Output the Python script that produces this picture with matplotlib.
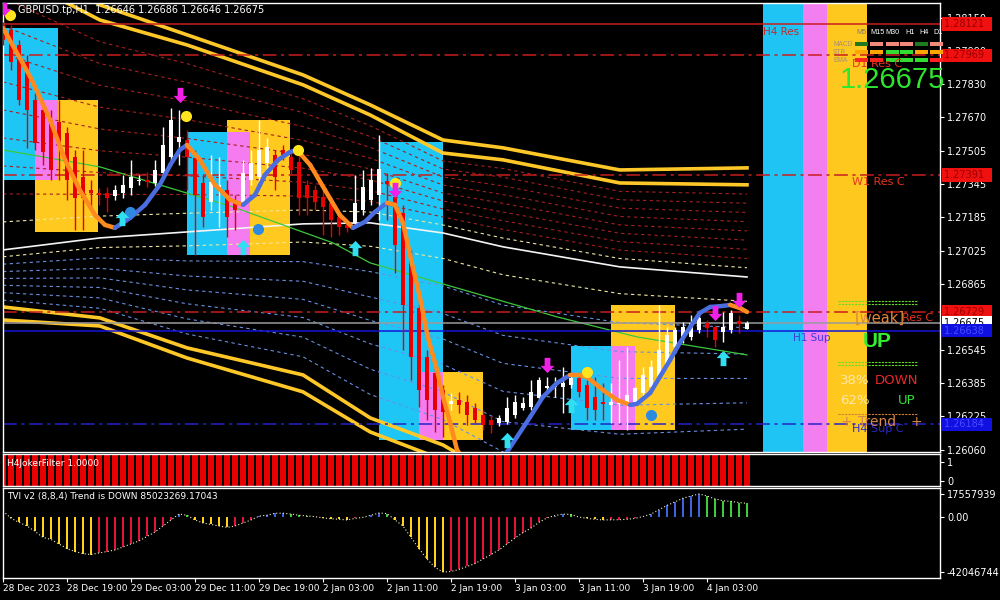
import numpy as np
import matplotlib
matplotlib.use("Agg")
import matplotlib.pyplot as plt
from matplotlib.path import Path
from matplotlib.patches import Rectangle
from matplotlib.lines import Line2D
import matplotlib.transforms as mtransforms

# ---------------- data ----------------
opens = [1.28117, 1.28093, 1.28020, 1.27938, 1.27754, 1.27706, 1.27657, 1.27648, 1.27594, 1.27478,
         1.27381, 1.27318, 1.27304, 1.27304, 1.27289, 1.27304, 1.27328, 1.27362, 1.27367, 1.27352,
         1.27401, 1.27478, 1.27551, 1.27560, 1.27473, 1.27352, 1.27260, 1.27318, 1.27318, 1.27256,
         1.27256, 1.27367, 1.27381, 1.27449, 1.27488, 1.27512, 1.27478, 1.27454, 1.27343, 1.27318,
         1.27285, 1.27256, 1.27188, 1.27149, 1.27159, 1.27222, 1.27270, 1.27294, 1.27362, 1.27285,
         1.27207, 1.26980, 1.26747, 1.26510, 1.26433, 1.26350, 1.26283, 1.26302, 1.26292, 1.26263,
         1.26229, 1.26205, 1.26191, 1.26196, 1.26229, 1.26263, 1.26268, 1.26312, 1.26360, 1.26365,
         1.26365, 1.26375, 1.26409, 1.26375, 1.26317, 1.26292, 1.26278, 1.26283, 1.26292, 1.26292,
         1.26336, 1.26365, 1.26413, 1.26471, 1.26559, 1.26607, 1.26607, 1.26641, 1.26675, 1.26655,
         1.26631, 1.26641, 1.26684, 1.26646]
highs = [1.28132, 1.28117, 1.28044, 1.27972, 1.27788, 1.27730, 1.27706, 1.27754, 1.27623, 1.27512,
         1.27512, 1.27367, 1.27328, 1.27333, 1.27343, 1.27391, 1.27464, 1.27391, 1.27406, 1.27464,
         1.27623, 1.27715, 1.27706, 1.27609, 1.27512, 1.27391, 1.27488, 1.27478, 1.27367, 1.27294,
         1.27464, 1.27512, 1.27657, 1.27570, 1.27512, 1.27536, 1.27512, 1.27512, 1.27367, 1.27343,
         1.27318, 1.27280, 1.27212, 1.27173, 1.27391, 1.27415, 1.27425, 1.27585, 1.27401, 1.27343,
         1.27246, 1.27028, 1.26786, 1.26544, 1.26471, 1.26375, 1.26336, 1.26341, 1.26326, 1.26288,
         1.26254, 1.26229, 1.26229, 1.26317, 1.26326, 1.26317, 1.26399, 1.26413, 1.26413, 1.26413,
         1.26462, 1.26423, 1.26433, 1.26399, 1.26413, 1.26384, 1.26384, 1.26496, 1.26559, 1.26365,
         1.26462, 1.26496, 1.26762, 1.26655, 1.26655, 1.26680, 1.26713, 1.26728, 1.26689, 1.26665,
         1.26728, 1.26738, 1.26713, 1.26686]
lows = [1.28020, 1.27899, 1.27730, 1.27522, 1.27512, 1.27439, 1.27367, 1.27367, 1.27270, 1.27125,
        1.27125, 1.27222, 1.27246, 1.27212, 1.27270, 1.27280, 1.27294, 1.27343, 1.27333, 1.27338,
        1.27377, 1.27439, 1.27439, 1.27318, 1.27004, 1.27139, 1.27222, 1.27139, 1.27091, 1.27125,
        1.27246, 1.27343, 1.27343, 1.27415, 1.27318, 1.27464, 1.27391, 1.27197, 1.27197, 1.27222,
        1.27101, 1.27091, 1.27101, 1.27115, 1.27135, 1.27197, 1.27246, 1.27173, 1.27173, 1.26917,
        1.26544, 1.26399, 1.26268, 1.26205, 1.26147, 1.26123, 1.26254, 1.26239, 1.26181, 1.26191,
        1.26157, 1.26142, 1.26176, 1.26186, 1.26215, 1.26254, 1.26254, 1.26302, 1.26336, 1.26317,
        1.26239, 1.26360, 1.26317, 1.26205, 1.26205, 1.26205, 1.26191, 1.26191, 1.26157, 1.26278,
        1.26321, 1.26350, 1.26399, 1.26457, 1.26544, 1.26578, 1.26592, 1.26626, 1.26607, 1.26559,
        1.26583, 1.26626, 1.26626, 1.26646]
closes = [1.28044, 1.27938, 1.27754, 1.27706, 1.27546, 1.27502, 1.27415, 1.27536, 1.27367, 1.27280,
          1.27280, 1.27304, 1.27294, 1.27280, 1.27318, 1.27343, 1.27381, 1.27367, 1.27357, 1.27415,
          1.27536, 1.27657, 1.27575, 1.27478, 1.27294, 1.27188, 1.27357, 1.27343, 1.27188, 1.27222,
          1.27401, 1.27449, 1.27512, 1.27527, 1.27381, 1.27488, 1.27415, 1.27280, 1.27280, 1.27260,
          1.27236, 1.27173, 1.27139, 1.27135, 1.27256, 1.27333, 1.27367, 1.27420, 1.27347, 1.27052,
          1.26762, 1.26510, 1.26350, 1.26302, 1.26254, 1.26244, 1.26297, 1.26278, 1.26229, 1.26205,
          1.26181, 1.26181, 1.26215, 1.26263, 1.26292, 1.26288, 1.26341, 1.26399, 1.26370, 1.26375,
          1.26384, 1.26409, 1.26341, 1.26263, 1.26254, 1.26283, 1.26292, 1.26288, 1.26326, 1.26360,
          1.26423, 1.26462, 1.26544, 1.26617, 1.26641, 1.26655, 1.26675, 1.26699, 1.26651, 1.26592,
          1.26655, 1.26723, 1.26670, 1.26675]

time_tick_bars = [0, 8, 16, 24, 32, 40, 48, 56, 64, 72, 80, 88]
time_tick_labels = ['28 Dec 2023', '28 Dec 19:00', '29 Dec 03:00', '29 Dec 11:00', '29 Dec 19:00',
                    '2 Jan 03:00', '2 Jan 11:00', '2 Jan 19:00', '3 Jan 03:00', '3 Jan 11:00',
                    '3 Jan 19:00', '4 Jan 03:00']
price_ticks = [1.28150, 1.27990, 1.27830, 1.27670, 1.27505, 1.27345, 1.27185, 1.27025,
               1.26865, 1.26545, 1.26385, 1.26225, 1.26060]

# horizontal support / resistance levels
level_prices = [1.28121, 1.27969, 1.27391, 1.26729, 1.26675, 1.26638, 1.26184]
level_colors = ['#c81e1e', '#c81e1e', '#c81e1e', '#c81e1e', '#9a9a9a', '#1414d8', '#2424c8']
level_dashed = [False, True, True, True, False, False, True]
level_box_face = ['#f01010', '#f01010', '#f01010', '#f01010', '#ffffff', '#1010e0', '#1010e0']
level_box_text = ['#9a0000', '#9a0000', '#9a0000', '#9a0000', '#000000', '#4a4aff', '#4a4aff']

# smoothed trend line (bar, price)
trend_bars = [0, 2.1, 3.6, 5.9, 7.75, 9.6, 11.5, 12.75, 14, 15.9, 17.75, 19.6, 20.9, 22.1, 23, 24.6,
              26.5, 28.4, 30, 31.5, 32.75, 34.4, 35.9, 36.75, 38.4, 40.25, 42.1, 43.75, 45.25, 46.5,
              48, 49, 50, 51.1, 52.1, 53.1, 54.25, 55, 55.9, 56.75, 58.4, 60.25, 61.75, 63, 64.25,
              65.9, 67.5, 69.25, 70.9, 71.9, 73, 75, 76.75, 78.4, 79.25, 80.9, 82.1, 83.4, 84.6,
              85.9, 87.1, 88.4, 90, 90.9, 92.1, 93]
trend_prices = [1.28102, 1.27957, 1.27851, 1.27657, 1.27464, 1.27318, 1.27197, 1.27149, 1.27135,
                1.27183, 1.27246, 1.27343, 1.27439, 1.27512, 1.27536, 1.27464, 1.27343, 1.27270,
                1.27246, 1.27294, 1.27391, 1.27464, 1.27502, 1.27512, 1.27439, 1.27318, 1.27197,
                1.27135, 1.27164, 1.27212, 1.27256, 1.27246, 1.27159, 1.26965, 1.26801, 1.26607,
                1.26447, 1.26317, 1.26191, 1.26060, 1.25973, 1.25939, 1.25963, 1.26050, 1.26123,
                1.26220, 1.26317, 1.26384, 1.26423, 1.26423, 1.26413, 1.26350, 1.26302, 1.26278,
                1.26283, 1.26336, 1.26413, 1.26496, 1.26578, 1.26655, 1.26723, 1.26752, 1.26757,
                1.26762, 1.26747, 1.26728]

# envelope bands (bar, price)
band_bars = [0, 12.1, 23, 37.5, 45.9, 55, 62.5, 77.1, 93]
band_mid = [1.27028, 1.27086, 1.27115, 1.27154, 1.27159, 1.27110, 1.27043, 1.26946, 1.26897]
band_up_outer = [1.28528, 1.28214, 1.28069, 1.27875, 1.27730, 1.27560, 1.27522, 1.27415, 1.27425]
band_up_inner = [1.28383, 1.28141, 1.28020, 1.27827, 1.27681, 1.27497, 1.27464, 1.27352, 1.27343]
band_lo_inner = [1.26752, 1.26699, 1.26554, 1.26423, 1.26215, 1.26084, 1.25915, 1.25866, 1.25915]
band_lo_outer = [1.26689, 1.26660, 1.26505, 1.26341, 1.26147, 1.26012, 1.25842, 1.25794, 1.25842]
green_ma_bars = [0, 12.1, 28.75, 41.25, 45.9, 69.25, 79.25, 93]
green_ma_prices = [1.27512, 1.27430, 1.27236, 1.27062, 1.26965, 1.26704, 1.26607, 1.26520]

# zones: (start bar, end bar, low price, high price)
cyan_zones = [(0, 6.9, 1.27367, 1.28102), (23, 28, 1.27004, 1.27599),
              (47, 55, 1.26108, 1.27551), (71, 76, 1.26157, 1.26563)]
yellow_zones = [(4, 11.9, 1.27115, 1.27754), (28, 35.9, 1.27004, 1.27657),
                (55, 60, 1.26108, 1.26438), (76, 84, 1.26157, 1.26762)]
pink_zones = [(4, 6.9, 1.27367, 1.27754), (28, 30.9, 1.27004, 1.27599),
              (52, 55, 1.26108, 1.26438), (76, 79, 1.26157, 1.26563)]
signal_columns = [(95, 100, '#20c4f4'), (100, 103, '#f37ef0'), (103, 108, '#ffc81e')]

# signal markers
yellow_dot_bars = [0.9, 22.9, 36.9, 49, 73]
yellow_dot_prices = [1.28165, 1.27677, 1.27512, 1.27352, 1.26438]
blue_dot_bars = [15.9, 31.9, 81]
blue_dot_prices = [1.27212, 1.27130, 1.26229]
up_arrow_bars = [14.9, 30, 44, 63, 71, 90]
up_arrow_prices = [1.27183, 1.27043, 1.27038, 1.26108, 1.26278, 1.26505]
down_arrow_bars = [0.1, 22.1, 49, 68, 89, 92]
down_arrow_prices = [1.28200, 1.27778, 1.27318, 1.26471, 1.26723, 1.26786]

# sub-indicators
joker_filter = [1] * 94
tvi_values_m = [4.5, -1.0, -4.1, -6.9, -11.0, -15.6, -17.2, -20.6, -24.1, -26.4,
                -28.0, -28.7, -27.5, -26.4, -25.2, -22.9, -20.6, -18.3, -14.9, -11.5,
                -6.9, -2.3, 2.2, 1.3, -2.3, -4.6, -5.7, -6.9, -8.0, -6.9,
                -4.6, -2.3, 0.6, 1.3, 2.8, 2.9, 2.2, 1.3, 0.8, 0.2,
                -0.7, -1.4, -1.8, -2.3, -1.1, -0.3, 1.3, 3.0, 2.6, -2.3,
                -6.9, -15.6, -24.1, -32.1, -38.5, -42.05, -41.6, -40.1, -37.8, -35.6,
                -32.1, -28.7, -25.2, -20.6, -16.1, -11.9, -8.5, -4.1, -0.7, 1.1,
                2.2, 1.9, -0.1, -1.1, -1.8, -2.3, -2.2, -2.1, -1.8, -1.1,
                0.3, 2.2, 5.5, 8.8, 11.5, 14.3, 16.0, 17.56, 16.0, 13.8,
                12.4, 11.9, 11.0, 10.4]

dash_headers = ['M5', 'M15', 'M30', 'H1', 'H4', 'D1']
dash_rows = ['MACD', 'STR', 'EMA']
dash_colors = [['#1f7a1f', '#f08a7a', '#f08a7a', '#f08a7a', '#1f7a1f', '#f08a7a'],
               ['#ffa500', '#ffa500', '#32dc32', '#32dc32', '#ffa500', '#ffa500'],
               ['#ff2020', '#ff2020', '#32dc32', '#32dc32', '#32dc32', '#ff2020']]

# ---------------- figure ----------------
W, H = 1000, 600
fig = plt.figure(figsize=(10, 6), dpi=100, facecolor='black')
ax = fig.add_axes([3 / W, 1 - 452 / H, 937 / W, 449 / H])
axj = fig.add_axes([3 / W, 1 - 486 / H, 937 / W, 32 / H], sharex=ax)
axt = fig.add_axes([3 / W, 1 - 578 / H, 937 / W, 90 / H], sharex=ax)

for a in (ax, axj, axt):
    a.set_facecolor('black')
    for s in a.spines.values():
        s.set_color('white')
        s.set_linewidth(1)
    a.yaxis.tick_right()
    a.tick_params(axis='y', colors='white', labelsize=7, length=3, width=0.8, pad=2)
for a in (ax, axj):
    a.tick_params(axis='x', bottom=False, labelbottom=False)

ax.set_xlim(0, 117.125)
ax.set_ylim(1.26050, 1.28223)
ax.set_yticks(price_ticks)
ax.set_yticklabels([f"{p:.5f}" for p in price_ticks])

bars = np.arange(len(closes))
o, h, l, c = map(np.array, (opens, highs, lows, closes))

# zones
for zones, col in ((cyan_zones, '#1ec6f5'), (yellow_zones, '#ffc91f'), (pink_zones, '#f47cf0')):
    for x0, x1, lo, hi in zones:
        ax.add_patch(Rectangle((x0, lo), x1 - x0, hi - lo, facecolor=col, edgecolor='none', zorder=1))
for x0, x1, col in signal_columns:
    ax.axvspan(x0, x1, color=col, zorder=1, lw=0)

# bands
bb = np.array(band_bars)
mid = np.array(band_mid)
ui = np.array(band_up_inner)
li = np.array(band_lo_inner)
for f in [0.2, 0.3, 0.4, 0.5, 0.6, 0.7, 0.8, 0.9]:
    ax.plot(bb, mid + f * (ui - mid), color='#a52020', lw=0.8, ls=(0, (3, 3)), zorder=2)
for f in [0.25, 0.38, 0.5, 0.62, 0.75, 0.88]:
    ax.plot(bb, mid + f * (li - mid), color='#6a8ee0', lw=0.8, ls=(0, (3, 3)), zorder=2)
ax.plot(bb, mid + 0.1 * (ui - mid), color='#eee8a0', lw=0.8, ls=(0, (3, 3)), zorder=2)
ax.plot(bb, mid + 0.12 * (li - mid), color='#eee8a0', lw=0.8, ls=(0, (3, 3)), zorder=2)
ax.plot(bb, mid, color='#f4f4f4', lw=1.2, zorder=2)
for band in (band_up_outer, band_up_inner, band_lo_inner, band_lo_outer):
    ax.plot(bb, band, color='#ffc828', lw=2.6, zorder=2.2)
ax.plot(green_ma_bars, green_ma_prices, color='#3cc83c', lw=0.9, zorder=2)

# horizontal levels
for p, col, dashed in zip(level_prices, level_colors, level_dashed):
    ls = (0, (9, 3, 2, 3)) if dashed else '-'
    ax.axhline(p, color=col, lw=1.1, ls=ls, zorder=2.5)

# candles
up = c >= o
ccol = np.where(up, '#ffffff', '#e80000')
ax.vlines(bars, l, h, colors=ccol, lw=1, zorder=4)
ax.bar(bars, np.maximum(np.abs(c - o), 0.00004), bottom=np.minimum(o, c), width=0.62,
       color=ccol, lw=0, zorder=4)

# smoothed trend line
tb = np.array(trend_bars)
tp = np.array(trend_prices)
for i in range(len(tb) - 1):
    col = '#4a6ee0' if tp[i + 1] > tp[i] else '#ff8a1e'
    ax.plot(tb[i:i + 2], tp[i:i + 2], color=col, lw=3.2, solid_capstyle='round', zorder=4.5)

# markers
up_path = Path([(0, 1), (-0.9, 0.05), (-0.38, 0.05), (-0.38, -1), (0.38, -1), (0.38, 0.05),
                (0.9, 0.05), (0, 1)])
down_path = Path([(0, -1), (-0.9, -0.05), (-0.38, -0.05), (-0.38, 1), (0.38, 1), (0.38, -0.05),
                  (0.9, -0.05), (0, -1)])
ax.plot(yellow_dot_bars, yellow_dot_prices, 'o', color='#ffe41e', ms=8, mec='none', zorder=6)
ax.plot(blue_dot_bars, blue_dot_prices, 'o', color='#2c8ae0', ms=8, mec='none', zorder=6)
ax.plot(up_arrow_bars, up_arrow_prices, ls='none', marker=up_path, color='#30e0f0', ms=11,
        mec='none', zorder=6)
ax.plot(down_arrow_bars, down_arrow_prices, ls='none', marker=down_path, color='#f020e8', ms=11,
        mec='none', zorder=6)

# price labels on axis
trans = mtransforms.blended_transform_factory(ax.transAxes, ax.transData)
for p, fc, tc in zip(level_prices, level_box_face, level_box_text):
    ax.text(1.004, p, f"{p:.5f}  ", transform=trans, fontsize=7, color=tc, va='center', ha='left',
            bbox=dict(boxstyle='square,pad=0.18', fc=fc, ec='none'), zorder=10, clip_on=False)

# joker filter panel
jtrans = mtransforms.blended_transform_factory(axj.transData, axj.transAxes)
axj.bar(bars, joker_filter, width=0.74, bottom=0, color='#e60000', lw=0, transform=jtrans)
axj.set_ylim(-0.26, 1.42)
axj.set_yticks([1, 0])
axj.set_yticklabels(['1', '0'])

# TVI panel
tv = np.array(tvi_values_m) * 1e6
prev = np.r_[tv[0], tv[:-1]]
tcol = np.where(tv >= 0, np.where(tv > prev, '#3f62e0', '#3ccc3c'),
                np.where(tv < prev, '#ffd21e', '#e0163c'))
axt.bar(bars, tv, width=0.36, color=tcol, lw=0, zorder=2)
axt.plot(bars, tv, ls=(0, (1, 2)), color='#f0f0c0', lw=0.8, zorder=3)
axt.set_ylim(-46.6e6, 22.1e6)
axt.set_yticks([17557939, 0, -42046744])
axt.set_yticklabels(['17557939', '0.00', '-42046744'])
axt.set_xticks(time_tick_bars)
axt.set_xticklabels(time_tick_labels)
axt.tick_params(axis='x', colors='white', labelsize=6.5, length=3, width=0.8, pad=1)
for lab in axt.get_xticklabels():
    lab.set_ha('left')

# ---------------- texts ----------------
def ftext(px, py, s, **kw):
    kw.setdefault('va', 'center')
    fig.text(px / W, 1 - py / H, s, **kw)

def fline(x0, x1, py, **kw):
    fig.add_artist(Line2D([x0 / W, x1 / W], [1 - py / H] * 2, transform=fig.transFigure, **kw))

ftext(18, 10, "GBPUSD.tp,H1  1.26646 1.26686 1.26646 1.26675", color='white', fontsize=7)
ftext(7, 463, "H4JokerFilter 1.0000", color='white', fontsize=6.5)
ftext(7, 496, "TVI v2 (8,8,4) Trend is DOWN 85023269.17043", color='white', fontsize=6.5)

ftext(763, 32, "H4 Res", color='#b83030', fontsize=7.5)
ftext(852, 64, "D1 Res C", color='#e8321e', fontsize=8)
ftext(852, 182, "W1 Res C", color='#e8321e', fontsize=8)
ftext(855, 318, "[weak]", color='#e08838', fontsize=10.5)
ftext(902, 318, "Res C", color='#e8321e', fontsize=8)
ftext(793, 338, "H1 Sup", color='#3c3cdc', fontsize=7.5)
ftext(852, 429, "H4 Sup C", color='#2a2acc', fontsize=8)
ftext(840, 422, "+", color='#d8884a', fontsize=10)
ftext(858, 422, "Trend", color='#d8884a', fontsize=10)
ftext(910, 422, "+", color='#d8884a', fontsize=10)
ftext(840, 380, "38%", color='#ffe8a8', fontsize=9.5)
ftext(875, 380, "DOWN", color='#e82828', fontsize=9.5)
ftext(840, 400, "62%", color='#ffe8a8', fontsize=9.5)
ftext(898, 400, "UP", color='#33dd33', fontsize=9.5)
ftext(877, 342, "UP", color='#33ee33', fontsize=15, fontweight='bold', ha='center',
      family='Liberation Sans')
ftext(892, 80, "1.26675", color='#2ee62e', fontsize=21, ha='center', family='Liberation Sans')

for y in (301, 304, 362, 365):
    fline(838, 917, y, color='#66dd22', lw=0.8, ls=(0, (2, 1)))
fline(838, 917, 414, color='#d08030', lw=0.8, ls=(0, (2, 1)))

# dashboard
hx = [856, 870, 885, 905, 919, 933]
for x, t in zip(hx, dash_headers):
    ftext(x, 33, t, color='white' if t != 'M5' else '#8a7a60', fontsize=5.2,
          family='Liberation Sans')
cx = [861, 876, 892, 906, 921, 936]
ry = [44, 52, 60]
for r, y in enumerate(ry):
    ftext(833, y, dash_rows[r], color='#a89070', fontsize=4.8, family='Liberation Sans')
    for x, col in zip(cx, dash_colors[r]):
        fig.add_artist(Rectangle(((x - 6.5) / W, 1 - (y + 2) / H), 13 / W, 4 / H,
                                 transform=fig.transFigure, facecolor=col, edgecolor='none'))

fig.savefig("out.png", dpi=100, facecolor='black')
